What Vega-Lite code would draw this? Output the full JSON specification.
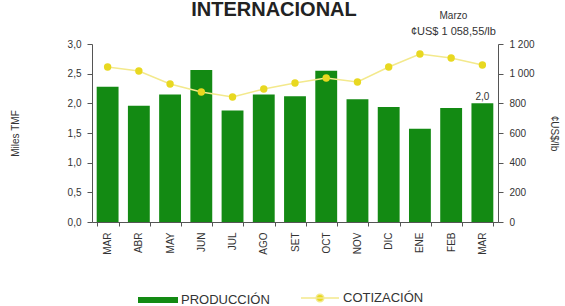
{
  "$schema": "https://vega.github.io/schema/vega-lite/v6.json",
  "autosize": {"type": "none"},
  "width": 406,
  "height": 178,
  "padding": {"left": 92, "top": 44, "right": 67, "bottom": 84},
  "background": "white",
  "config": {
    "view": {"stroke": null},
    "font": "Liberation Sans",
    "axis": {"labelFont": "Liberation Sans", "titleFont": "Liberation Sans", "labelColor": "#333", "titleColor": "#333", "domainColor": "#555", "tickColor": "#555", "grid": false, "labelFontSize": 10, "titleFontSize": 10, "titleFontWeight": "normal", "labelOverlap": false},
    "legend": {"labelFont": "Liberation Sans", "labelFontSize": 13, "labelColor": "#333", "title": null, "orient": "none", "direction": "horizontal", "labelOffset": 0}
  },
  "title": {"text": "INTERNACIONAL", "fontSize": 20, "fontWeight": "bold", "color": "#222", "anchor": "middle", "dx": -21, "offset": 0, "dy": 9, "font": "Liberation Sans"},
  "data": {"values": [
    {"i": 0, "mes": "MAR", "prod": 2.28, "cot": 1045},
    {"i": 1, "mes": "ABR", "prod": 1.96, "cot": 1018},
    {"i": 2, "mes": "MAY", "prod": 2.15, "cot": 930},
    {"i": 3, "mes": "JUN", "prod": 2.56, "cot": 876},
    {"i": 4, "mes": "JUL", "prod": 1.88, "cot": 843},
    {"i": 5, "mes": "AGO", "prod": 2.15, "cot": 897},
    {"i": 6, "mes": "SET", "prod": 2.12, "cot": 937},
    {"i": 7, "mes": "OCT", "prod": 2.55, "cot": 971},
    {"i": 8, "mes": "NOV", "prod": 2.07, "cot": 944},
    {"i": 9, "mes": "DIC", "prod": 1.94, "cot": 1045},
    {"i": 10, "mes": "ENE", "prod": 1.57, "cot": 1133},
    {"i": 11, "mes": "FEB", "prod": 1.92, "cot": 1106},
    {"i": 12, "mes": "MAR", "prod": 2.0, "cot": 1058.55}
  ]},
  "encoding": {
    "x": {"field": "i", "type": "ordinal", "scale": {"paddingInner": 0.3, "paddingOuter": 0.15},
      "axis": {"title": null, "labelAngle": -90, "labelExpr": "['MAR','ABR','MAY','JUN','JUL','AGO','SET','OCT','NOV','DIC','ENE','FEB','MAR'][datum.value]", "tickBand": "extent", "labelPadding": 6, "tickSize": 4}}
  },
  "layer": [
    {
      "mark": {"type": "bar"},
      "encoding": {
        "y": {"field": "prod", "type": "quantitative", "scale": {"domain": [0, 3]},
          "axis": {"title": "Miles TMF", "titleX": -72, "values": [0, 0.5, 1, 1.5, 2, 2.5, 3], "labelExpr": "replace(format(datum.value, '.1f'), '.', ',')", "tickSize": 5, "labelPadding": 6}},
        "color": {"datum": "PRODUCCIÓN", "type": "nominal",
          "scale": {"domain": ["PRODUCCIÓN"], "range": ["#138a13"]},
          "legend": {"legendX": 43, "legendY": 233, "symbolType": "stroke", "symbolSize": 1600, "symbolStrokeWidth": 6, "symbolStrokeColor": "#138a13"}}
      }
    },
    {
      "mark": {"type": "text", "dy": -6, "fontSize": 10, "color": "#333"},
      "transform": [{"filter": "datum.i === 12"}],
      "encoding": {
        "y": {"field": "prod", "type": "quantitative", "scale": {"domain": [0, 3]}, "axis": null},
        "text": {"value": "2,0"}
      }
    },
    {
      "mark": {"type": "line", "strokeWidth": 1.5},
      "encoding": {
        "y": {"field": "cot", "type": "quantitative", "scale": {"domain": [0, 1200]},
          "axis": {"orient": "right", "title": "¢US$/lb", "titleAngle": 90, "titleX": 50, "values": [0, 200, 400, 600, 800, 1000, 1200], "labelExpr": "replace(format(datum.value, ',d'), ',', ' ')", "tickSize": 5, "labelPadding": 6}},
        "stroke": {"datum": "COTIZACIÓN", "type": "nominal",
          "scale": {"domain": ["COTIZACIÓN"], "range": ["#f3e98c"]},
          "legend": {"legendX": 208, "legendY": 234, "symbolSize": 1444, "symbolStrokeWidth": 1.5, "symbolFillColor": "#e8d820", "labelOffset": 3,
            "symbolType": "M-1,0L1,0M0.2,0A0.2,0.2 0 1,1 -0.2,0A0.2,0.2 0 1,1 0.2,0Z"}}
      }
    },
    {
      "mark": {"type": "point", "filled": true, "color": "#e8d820", "size": 55, "opacity": 1},
      "encoding": {
        "y": {"field": "cot", "type": "quantitative", "scale": {"domain": [0, 1200]}, "axis": null}
      }
    },
    {
      "mark": {"type": "text", "dx": -29, "fontSize": 10, "color": "#333"},
      "transform": [{"filter": "datum.i === 12"}],
      "encoding": {
        "y": {"datum": 1389, "type": "quantitative", "scale": {"domain": [0, 1200]}, "axis": null},
        "text": {"value": "Marzo"}
      }
    },
    {
      "mark": {"type": "text", "dx": -29, "fontSize": 11, "color": "#333"},
      "transform": [{"filter": "datum.i === 12"}],
      "encoding": {
        "y": {"datum": 1281, "type": "quantitative", "scale": {"domain": [0, 1200]}, "axis": null},
        "text": {"value": "¢US$ 1 058,55/lb"}
      }
    }
  ],
  "resolve": {"scale": {"y": "independent"}}
}
